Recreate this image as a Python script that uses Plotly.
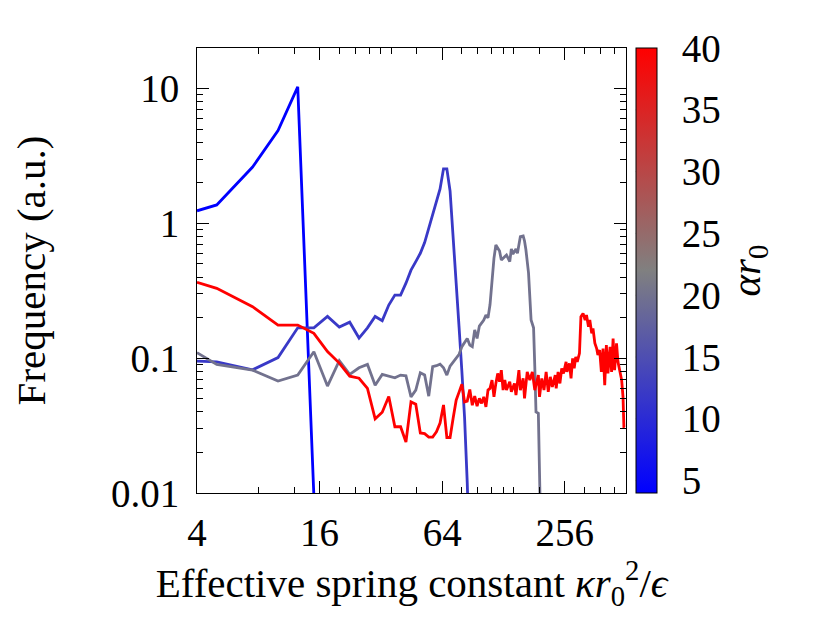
import math
import plotly.graph_objects as go
from plotly.colors import sample_colorscale

# alpha*r0 value of each curve
alpha_blue = 4
alpha_mid = 12
alpha_gray = 20
alpha_red = 40

x_blue = [4, 5, 7.5, 10, 12.5, 15, 17.5]
y_blue = [1.24, 1.37, 2.62, 4.89, 10.3, 0.0095, 0.0001]

x_mid = [4, 5, 7.5, 10, 12.5, 15, 17.5, 20, 22.5, 25, 27.5, 30, 32.5, 35, 37.5,
         40, 42.5, 45, 47.5, 50, 52.5, 55, 57.5, 60, 62.5, 65, 67.5, 70, 72.5,
         75, 77.5, 80, 82.5, 85, 87.5]
y_mid = [0.095, 0.094, 0.082, 0.101, 0.168, 0.168, 0.204, 0.17, 0.185, 0.141,
         0.168, 0.204, 0.19, 0.248, 0.294, 0.294, 0.36, 0.45, 0.52, 0.6,
         0.72, 0.92, 1.19, 1.47, 1.8, 2.54, 2.54, 1.74, 0.82, 0.38,
         0.17, 0.08, 0.036, 0.012, 0.003]

x_gray = [4, 5, 7.5, 10, 12.5, 15, 17.5, 20, 22.5, 25, 27.5, 30, 32.5, 35, 37.5,
          40, 42.5, 45, 47.5, 50, 52.5, 55, 57.5, 60, 62.5, 65, 67.5, 70, 72.5,
          75, 77.5, 80, 82.5, 85, 87.5, 90, 92.5, 95, 97.5, 102.5, 105, 107.5,
          110, 112.5, 115, 117.5, 122.5, 125, 132.5, 137.5, 140, 142.5, 147.5,
          150, 155, 160, 162.5, 165, 170, 175, 180, 182.5, 185, 190, 192.5,
          195, 197.5]
y_gray = [0.11, 0.090, 0.0816, 0.0676, 0.075, 0.1116, 0.0621, 0.0957, 0.0758,
          0.0849, 0.0899, 0.0631, 0.0758, 0.0736, 0.0715, 0.0749, 0.074, 0.0517,
          0.058, 0.078, 0.075, 0.0523, 0.0865, 0.088, 0.0904, 0.085, 0.0749,
          0.0874, 0.0935, 0.0996, 0.107, 0.1216, 0.13, 0.140, 0.125, 0.1216,
          0.162, 0.140, 0.173, 0.192, 0.209, 0.199, 0.25, 0.4, 0.55, 0.692,
          0.623, 0.535, 0.583, 0.52, 0.646, 0.593, 0.646, 0.601, 0.798, 0.808,
          0.741, 0.64, 0.43, 0.192, 0.168, 0.0863, 0.040, 0.039, 0.0156, 0.007,
          0.002]

x_red = [4, 5, 7.5, 10, 12.5, 15, 17.5, 20, 22.5, 25, 27.5, 30, 32.5, 35, 37.5,
         40, 42.5, 45, 47.5, 50, 52.5, 55, 57.5, 60, 62.5, 65, 67.5, 70, 72.5,
         75, 77.5, 80, 82.5, 85, 87.5, 90, 92.5, 95, 97.5, 100, 102.5, 105,
         107.5, 110, 112.5, 115, 117.5, 120, 122.5, 125, 127.5, 130, 132.5,
         137.5, 140, 145, 147.5, 152.5, 155, 160, 162.5, 167.5, 172.5, 177.5,
         182.5, 187.5, 190, 192.5, 197.5, 202.5, 207.5, 212.5, 217.5, 222.5,
         230, 232.5, 237.5, 242.5, 247.5, 252.5, 260, 262.5, 270, 275, 280,
         285, 290, 295, 302.5, 307.5, 315, 322.5, 327.5, 335, 340, 347.5,
         352.5, 360, 367.5, 372.5, 380, 387.5, 395, 402.5, 410, 417.5, 427.5,
         435, 442.5, 450, 460, 467.5, 477.5, 487.5, 495, 500, 505]
y_red = [0.366, 0.330, 0.241, 0.176, 0.176, 0.153, 0.112, 0.092, 0.0736, 0.0710,
         0.0597, 0.0355, 0.0397, 0.052, 0.031, 0.031, 0.0239, 0.0474, 0.0456,
         0.0279, 0.0276, 0.026, 0.026, 0.0284, 0.033, 0.045, 0.0258, 0.0258,
         0.036, 0.0488, 0.056, 0.0642, 0.0474, 0.048,
         0.0586, 0.0448, 0.0523, 0.0441, 0.0503, 0.0462, 0.0517, 0.0435, 0.058,
         0.0597, 0.0688, 0.0517, 0.065, 0.0771, 0.0668, 0.0816, 0.058, 0.0688,
         0.058, 0.0668, 0.0563, 0.065, 0.0532, 0.0816, 0.058, 0.0708, 0.0503,
         0.0792, 0.0688, 0.0792, 0.058, 0.0688, 0.0749, 0.0517, 0.0708, 0.058,
         0.0792, 0.0563, 0.0727, 0.0613, 0.0749, 0.0597, 0.0792, 0.065, 0.084,
         0.0771, 0.094, 0.0792, 0.0915, 0.0708, 0.0997, 0.084, 0.1024, 0.094,
         0.1086, 0.203, 0.215, 0.192, 0.209, 0.171, 0.192, 0.153, 0.166, 0.129,
         0.118, 0.1055, 0.115, 0.0792, 0.118, 0.0631, 0.125, 0.0771, 0.1216,
         0.0792, 0.14, 0.0816, 0.129, 0.094, 0.0816, 0.0688, 0.0517, 0.0309,
         0.0309]

x_ticks = [4, 16, 64, 256]
x_minor = [8, 12, 20, 24, 28, 32, 36, 48, 80, 96, 112, 128, 144, 192, 320, 384, 448]
y_ticks = [0.01, 0.1, 1, 10]
y_ticktext = ["0.01", "0.1", "1", "10"]
y_minor = [m * d for d in (0.01, 0.1, 1) for m in range(2, 10)] + [20]
cbar_ticks = [5, 10, 15, 20, 25, 30, 35, 40]

cmin, cmax = 4, 40
palette = [[0.0, "rgb(0,0,255)"], [0.5, "rgb(128,128,128)"], [1.0, "rgb(255,0,0)"]]
FONT = "Liberation Serif"
TICK_SIZE = 39
TITLE_SIZE = 41

PLOT_W = 821 - 189 - 203
CBAR_X = 1.023
CBAR_THICK = 21


def curve_color(alpha):
    return sample_colorscale(palette, [(alpha - cmin) / (cmax - cmin)])[0]


fig = go.Figure()
for xs, ys, a in [(x_blue, y_blue, alpha_blue), (x_mid, y_mid, alpha_mid),
                  (x_gray, y_gray, alpha_gray), (x_red, y_red, alpha_red)]:
    fig.add_trace(go.Scatter(x=xs, y=ys, mode="lines",
                             line=dict(color=curve_color(a), width=2.8),
                             showlegend=False, hoverinfo="skip"))

# colour bar only
fig.add_trace(go.Scatter(
    x=[None, None, None, None], y=[None, None, None, None], mode="markers",
    showlegend=False, hoverinfo="skip",
    marker=dict(color=[alpha_blue, alpha_mid, alpha_gray, alpha_red],
                colorscale=palette, cmin=cmin, cmax=cmax, showscale=True,
                colorbar=dict(
                    x=CBAR_X, xanchor="left", xpad=0, y=0.5, yanchor="middle",
                    ypad=0, len=1, lenmode="fraction", thickness=CBAR_THICK,
                    outlinewidth=1, outlinecolor="black",
                    tickvals=cbar_ticks, ticks="outside", ticklen=17,
                    tickwidth=1, tickcolor="rgba(0,0,0,0)",
                    tickfont=dict(family=FONT, size=TICK_SIZE, color="black"),
                    title=dict(text="<i>αr</i><sub>0</sub>", side="right",
                               font=dict(family=FONT, size=TITLE_SIZE, color="black")),
                ))))

# tick lines drawn across the colour bar (gnuplot style)
for v in cbar_ticks[:-1]:
    frac = (v - cmin) / (cmax - cmin)
    fig.add_shape(type="line", xref="paper", yref="paper",
                  x0=CBAR_X, x1=CBAR_X + CBAR_THICK / PLOT_W, y0=frac, y1=frac,
                  line=dict(color="rgba(0,0,0,0.75)", width=1))

axis_common = dict(type="log", showline=True, linecolor="black", linewidth=1,
                   mirror="allticks", ticks="inside", ticklen=12, tickwidth=1,
                   tickcolor="black", showgrid=False, zeroline=False,
                   tickfont=dict(family=FONT, size=TICK_SIZE, color="black"))

# the page body adds an 8 px offset, so the figure is 8 px smaller
fig.update_layout(
    width=821, height=614,
    margin=dict(l=189, r=203, t=40, b=129),
    paper_bgcolor="white", plot_bgcolor="white",
    font=dict(family=FONT, color="black"),
    xaxis=dict(range=[math.log10(4), math.log10(512)], tickvals=x_ticks,
               ticklabelstandoff=5,
               minor=dict(tickvals=x_minor, ticks="inside", ticklen=6,
                          tickcolor="black", tickwidth=1),
               title=dict(text="Effective spring constant <i>κr</i><sub>0</sub><sup>2</sup>/<i>ϵ</i>",
                          font=dict(family=FONT, size=TITLE_SIZE), standoff=10),
               **axis_common),
    yaxis=dict(range=[-2, math.log10(20)], tickvals=y_ticks, ticktext=y_ticktext,
               ticklabelstandoff=9,
               minor=dict(tickvals=y_minor, ticks="inside", ticklen=6,
                          tickcolor="black", tickwidth=1),
               title=dict(text="Frequency (a.u.)", font=dict(family=FONT, size=TITLE_SIZE),
                          standoff=52),
               **axis_common),
)

fig.write_html("out.html")
